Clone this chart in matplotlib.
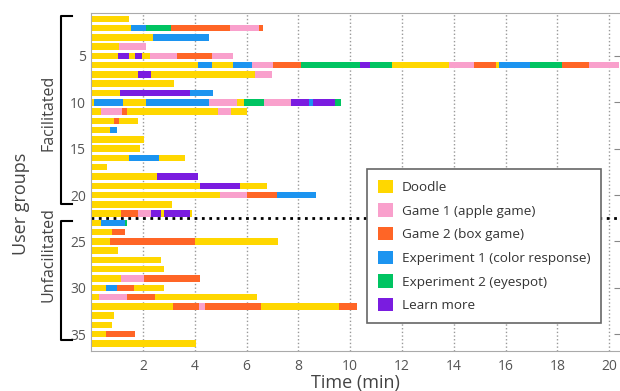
import matplotlib
matplotlib.use("Agg")
import matplotlib.pyplot as plt
from matplotlib.patches import Patch

plt.rcParams['font.family'] = ['Open Sans', 'DejaVu Sans']

activities = ['Doodle', 'Game 1 (apple game)', 'Game 2 (box game)',
              'Experiment 1 (color response)', 'Experiment 2 (eyespot)', 'Learn more']
codes = ['D', 'G1', 'G2', 'E1', 'E2', 'L']
colors = ['#FFD700', '#F9A0CC', '#FF6526', '#1C94F0', '#00C462', '#7A1CE0']

# each session: list of (activity code, end time in minutes)
facilitated = [
    [('D', 1.45)],
    [('D', 1.55), ('E1', 2.13), ('E2', 3.07), ('G2', 5.38), ('G1', 6.48), ('G2', 6.65)],
    [('D', 2.37), ('E1', 4.57)],
    [('D', 1.06), ('G1', 2.13)],
    [('D', 1.05), ('L', 1.46), ('D', 1.70), ('L', 1.96), ('D', 2.28), ('G1', 3.32), ('G2', 4.65), ('G1', 5.48)],
    [('D', 4.14), ('E1', 4.65), ('D', 5.48), ('E1', 6.23), ('G1', 7.04), ('G2', 8.12), ('E2', 10.37),
     ('L', 10.78), ('E2', 11.63), ('D', 13.81), ('G1', 14.80), ('G2', 15.62), ('D', 15.76),
     ('E1', 16.95), ('E2', 18.19), ('G2', 19.21), ('G1', 20.40)],
    [('D', 1.81), ('L', 2.31), ('D', 6.32), ('G1', 6.97)],
    [('D', 3.21)],
    [('D', 1.12), ('L', 3.82), ('E1', 4.71)],
    [('D', 0.12), ('E1', 1.23), ('D', 2.13), ('E1', 4.57), ('G1', 5.65), ('D', 5.91), ('E2', 6.66),
     ('G1', 7.73), ('L', 8.41), ('E1', 8.58), ('L', 9.42), ('E2', 9.66)],
    [('D', 0.37), ('G1', 1.21), ('G2', 1.39), ('D', 4.89), ('G1', 5.39), ('D', 6.01)],
    [('D', 0.89), ('G2', 1.06), ('D', 1.81)],
    [('D', 0.74), ('E1', 0.98)],
    [('D', 2.05)],
    [('D', 1.87)],
    [('D', 1.46), ('E1', 2.62), ('D', 3.64)],
    [('D', 0.63)],
    [('D', 2.55), ('L', 4.14)],
    [('D', 4.22), ('L', 5.73), ('D', 6.80)],
    [('D', 4.97), ('G1', 6.00), ('G2', 7.16), ('E1', 8.67)],
    [('D', 3.14)],
    [('D', 1.14), ('G2', 1.81), ('G1', 2.30), ('L', 2.71), ('D', 2.83), ('L', 3.82), ('D', 3.90)],
]

unfacilitated = [
    [('D', 0.39), ('E1', 1.32), ('E2', 1.37)],
    [('D', 0.81), ('G2', 1.32)],
    [('D', 0.74), ('G2', 4.00), ('D', 7.23)],
    [('D', 1.05)],
    [('D', 2.71)],
    [('D', 2.81)],
    [('D', 1.14), ('G1', 2.05), ('G2', 4.22)],
    [('D', 0.57), ('E1', 0.98), ('G2', 1.64), ('D', 2.81)],
    [('D', 0.30), ('G1', 1.39), ('G2', 2.45), ('D', 6.40)],
    [('D', 3.15), ('G2', 4.15), ('G1', 4.39), ('G2', 6.57), ('D', 9.57), ('G2', 10.25)],
    [('D', 0.89)],
    [('D', 0.80)],
    [('D', 0.57), ('G2', 1.70)],
    [('D', 4.06)],
]

color_of = dict(zip(codes, colors))
sessions = facilitated + unfacilitated

fig = plt.figure(figsize=(6.2, 3.91), dpi=100)
ax = fig.add_axes([0.147, 0.102, 0.853, 0.866])

for i, session in enumerate(sessions):
    start = 0.0
    for code, end in session:
        ax.barh(i + 1, end - start, left=start, height=0.7, color=color_of[code], linewidth=0)
        start = end

ax.set_xlim(0, 20.42)
ax.set_ylim(36.83, 0.32)
ax.set_xticks(range(2, 21, 2))
ax.set_yticks(range(5, 36, 5))
ax.grid(axis='x', linestyle=':', color='#999999', linewidth=1)
ax.set_axisbelow(True)
ax.tick_params(axis='x', length=0, labelsize=10, colors='#555555', pad=6)
ax.tick_params(axis='y', direction='in', length=4, labelsize=10, colors='#888888',
               labelcolor='#555555', right=True)
for s in ['left', 'bottom', 'top']:
    ax.spines[s].set_color('#aaaaaa')
ax.spines['right'].set_visible(False)

# separator between groups
ax.axhline(len(facilitated) + 0.47, color='black', linestyle=':', linewidth=2)

ax.set_xlabel('Time (min)', fontsize=13, color='#444444', labelpad=0)

# group brackets and labels
tr = ax.get_yaxis_transform()
for top, bottom in [(0.7, 21.0), (22.8, 35.6)]:
    ax.plot([-0.036, -0.057, -0.057, -0.036], [top, top, bottom, bottom],
            transform=tr, color='black', linewidth=1.5, clip_on=False)
ax.text(-0.081, 11.1, 'Facilitated', transform=tr, rotation=90, ha='center', va='center',
        fontsize=11.5, color='#444444')
ax.text(-0.081, 26.4, 'Unfacilitated', transform=tr, rotation=90, ha='center', va='center',
        fontsize=11.5, color='#444444')
ax.text(-0.133, 20.9, 'User groups', transform=tr, rotation=90, ha='center', va='center',
        fontsize=13, color='#444444')

handles = [Patch(facecolor=c, edgecolor='none') for c in colors]
leg = ax.legend(handles, activities, loc='upper left', bbox_to_anchor=(0.522, 0.538),
                borderaxespad=0, fontsize=9.7, frameon=True, fancybox=False, framealpha=1,
                handlelength=1.15, handleheight=1.15, labelspacing=0.7,
                borderpad=0.8, handletextpad=0.6, labelcolor='#333333')
leg.get_frame().set_edgecolor('#666666')
leg.get_frame().set_linewidth(1.2)

fig.savefig('out.png', dpi=100)
